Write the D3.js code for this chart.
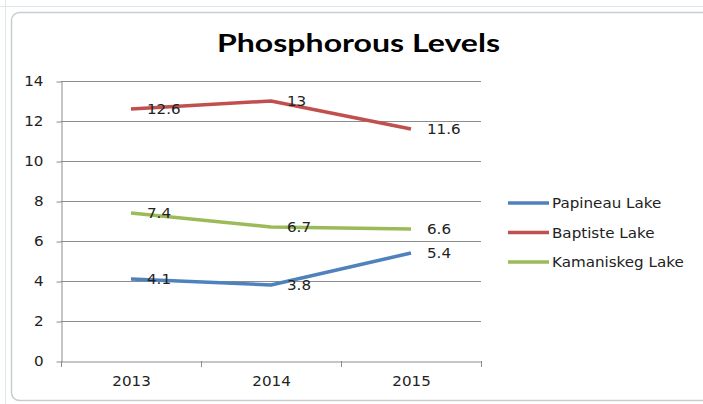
<!DOCTYPE html>
<html><head><meta charset="utf-8">
<script src="https://cdn.jsdelivr.net/npm/d3@7"></script>
<style>html,body{margin:0;padding:0;background:#fff;overflow:hidden}</style>
</head><body>
<svg id="c" width="703" height="404"></svg>
<script>
const years = ["2013", "2014", "2015"];
const seriesNames = ["Papineau Lake", "Baptiste Lake", "Kamaniskeg Lake"];
const papineau = [4.1, 3.8, 5.4];
const baptiste = [12.6, 13, 11.6];
const kamaniskeg = [7.4, 6.7, 6.6];
const yTicks = [0, 2, 4, 6, 8, 10, 12, 14];
const colors = ["#4F81BD", "#C0504D", "#9BBB59"];
const title = "Phosphorous Levels";

const series = [papineau, baptiste, kamaniskeg].map((v, i) => ({name: seriesNames[i], values: v, color: colors[i]}));
const FS = 13.5, STRETCH = 1.12;
function stretch(sel, f) {
  sel.each(function() {
    const w = this.getComputedTextLength();
    d3.select(this).attr("textLength", w * f).attr("lengthAdjust", "spacingAndGlyphs");
  });
}

const svg = d3.select("#c");
svg.append("rect").attr("x", 0).attr("y", 0).attr("width", 703).attr("height", 404).attr("fill", "#fff");
svg.append("line").attr("x1", 0).attr("x2", 703).attr("y1", 6.5).attr("y2", 6.5).attr("stroke", "#dfe6ea");
svg.append("line").attr("x1", 5.5).attr("x2", 5.5).attr("y1", 0).attr("y2", 404).attr("stroke", "#dfe6ea");
svg.append("rect").attr("x", 11.5).attr("y", 12.5).attr("width", 700).attr("height", 388)
  .attr("rx", 8).attr("fill", "#fff").attr("stroke", "#c5cdd1").attr("stroke-width", 1.5);

const pL = 61, pR = 481, pT = 81, pB = 361;
const x = d3.scaleBand().domain(years).range([pL, pR]);
const y = d3.scaleLinear().domain([0, 14]).range([pB, pT]);

svg.append("g").selectAll("line").data(yTicks.filter(d => d > 0)).join("line")
  .attr("x1", pL).attr("x2", pR)
  .attr("y1", d => Math.round(y(d)) + 0.5).attr("y2", d => Math.round(y(d)) + 0.5)
  .attr("stroke", "#8c8c8c").attr("stroke-width", 1);

const yAxis = svg.append("g").attr("transform", `translate(${pL + 0.5},0.5)`)
  .call(d3.axisLeft(y).tickValues(yTicks).tickSize(5).tickPadding(13).tickSizeOuter(0));
yAxis.select(".domain").attr("stroke", "#8c8c8c");
yAxis.selectAll(".tick line").attr("stroke", "#8c8c8c");
yAxis.selectAll("text").attr("font-family", "DejaVu Sans").attr("font-size", FS).attr("fill", "#222").call(stretch, STRETCH);

const xAxis = svg.append("g").attr("transform", `translate(0.5,${pB + 0.5})`)
  .call(d3.axisBottom(x).tickSize(0).tickPadding(15));
xAxis.select(".domain").attr("stroke", "#8c8c8c");
xAxis.selectAll("text").attr("font-family", "DejaVu Sans").attr("font-size", FS).attr("fill", "#222").call(stretch, STRETCH);
svg.append("g").selectAll("line").data([pL, pL + x.bandwidth(), pL + 2 * x.bandwidth(), pR]).join("line")
  .attr("x1", d => Math.round(d) + 0.5).attr("x2", d => Math.round(d) + 0.5)
  .attr("y1", pB).attr("y2", pB + 6).attr("stroke", "#8c8c8c");

const cx = d => x(d) + x.bandwidth() / 2;
const line = d3.line().x((v, i) => cx(years[i])).y(v => y(v));

svg.append("g").selectAll("path").data(series).join("path")
  .attr("d", d => line(d.values)).attr("fill", "none")
  .attr("stroke", d => d.color).attr("stroke-width", 3.5).attr("stroke-linejoin", "round");

series.forEach(s => {
  svg.append("g").selectAll("text").data(s.values).join("text")
    .attr("x", (v, i) => cx(years[i]) + 16).attr("y", v => y(v))
    .attr("dy", "0.38em").attr("font-family", "DejaVu Sans").attr("font-size", FS).attr("fill", "#222")
    .text(v => v).call(stretch, STRETCH);
});

svg.append("text").attr("x", 358.5).attr("y", 52).attr("text-anchor", "middle")
  .attr("font-family", "Lato").attr("font-weight", "bold").attr("font-size", 24).attr("fill", "#000")
  .attr("textLength", 283).attr("lengthAdjust", "spacingAndGlyphs")
  .text(title);

const lg = svg.append("g").selectAll("g").data(series).join("g")
  .attr("transform", (d, i) => `translate(508,${203 + i * 29.5})`);
lg.append("line").attr("x1", 0).attr("x2", 41).attr("y1", 0).attr("y2", 0)
  .attr("stroke", d => d.color).attr("stroke-width", 3.5);
lg.append("text").attr("x", 44).attr("y", 0).attr("dy", "0.38em")
  .attr("font-family", "DejaVu Sans").attr("font-size", FS).attr("fill", "#222").text(d => d.name).call(stretch, STRETCH);
</script>
</body></html>
